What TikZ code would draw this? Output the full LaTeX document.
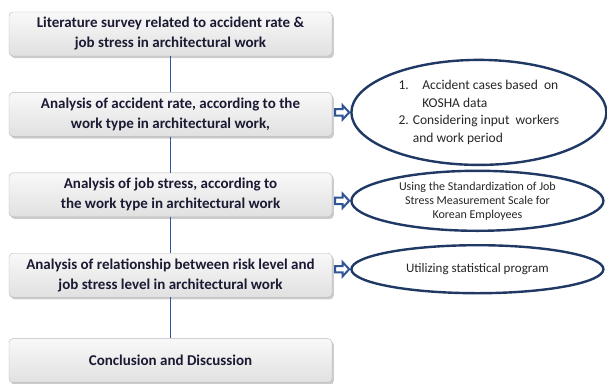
\documentclass[tikz,border=0pt]{standalone}
\usepackage{fontspec}
\setmainfont{Carlito}
\usepackage{tikz}
\usetikzlibrary{arrows.meta,positioning,calc,shapes.geometric,shadows}
\definecolor{linkblue}{HTML}{2F5597}
\definecolor{ringblue}{HTML}{1F3864}
\definecolor{boxtext}{HTML}{1A1A33}
\tikzset{
  stagebox/.style={
    draw=gray!55,
    top color=gray!5,
    bottom color=gray!24,
    rounded corners=4pt,
    drop shadow={shadow xshift=1.8pt,shadow yshift=-2.2pt,fill=gray!80},
    align=center,
    font=\fontsize{15}{20}\selectfont\bfseries,
    text=boxtext,
    minimum width=323pt,
    minimum height=44pt,
    inner sep=2pt
  },
  noteoval/.style={
    ellipse,
    draw=ringblue,
    line width=2.4pt,
    fill=white,
    align=center,
    inner sep=0pt,
    text=black!85
  },
  stageline/.style={draw=linkblue, line width=1.1pt},
  arrowbody/.style={draw=linkblue, line width=2pt, fill=white, line join=miter}
}
% hollow block arrow from the east side of #1 to the west side of #2
\newcommand\hollowlink[2]{
  \draw[arrowbody] let \p1=(#1.east |- #2.west), \p2=(#2.west) in
    (\x1+3pt,\y1+3.2pt) -- (\x2-7.5pt,\y1+3.2pt) -- (\x2-7.5pt,\y1+7pt) --
    (\x2-1pt,\y1) -- (\x2-7.5pt,\y1-7pt) -- (\x2-7.5pt,\y1-3.2pt) --
    (\x1+3pt,\y1-3.2pt) -- cycle;
}
\begin{document}
\begin{tikzpicture}[node distance=36pt and 18pt]
  \useasboundingbox (0,0) rectangle (607pt,-383pt);

  % research stages
  \node[stagebox] (survey) at (170.5pt,-34pt) {Literature survey related to accident rate \&\\job stress in architectural work};
  \node[stagebox,below=of survey] (accident) {Analysis of accident rate, according to the\\work type in architectural work,};
  \node[stagebox,below=of accident] (stress) {Analysis of job stress, according to\\the work type in architectural work};
  \node[stagebox,below=of stress] (relation) {Analysis of relationship between risk level and\\job stress level in architectural work};
  \node[stagebox,below=41pt of relation] (concl) {Conclusion and Discussion};

  \draw[stageline] (survey) -- (accident);
  \draw[stageline] (accident) -- (stress);
  \draw[stageline] (stress) -- (relation);
  \draw[stageline] (relation) -- (concl);

  % methods for each stage
  \node[noteoval,right=of accident,yshift=2pt,minimum width=255pt,minimum height=105pt,
        font=\fontsize{13.5}{17.5}\selectfont,align=left] (cases)
    {1.\quad Accident cases based\ \ on\\\hphantom{1.\quad }KOSHA data\\2. Considering\ input\ \ workers\\\hphantom{2. }and work period};
  \node[noteoval,right=of stress,yshift=-6pt,minimum width=252pt,minimum height=60pt,
        font=\fontsize{12}{14}\selectfont] (scale)
    {Using the Standardization of Job\\Stress Measurement Scale for\\Korean Employees};
  \node[noteoval,right=of relation,yshift=6pt,minimum width=252pt,minimum height=48pt,
        font=\fontsize{13}{15}\selectfont] (stats)
    {Utilizing statistical\ program};

  \hollowlink{accident}{cases}
  \hollowlink{stress}{scale}
  \hollowlink{relation}{stats}
\end{tikzpicture}
\end{document}
